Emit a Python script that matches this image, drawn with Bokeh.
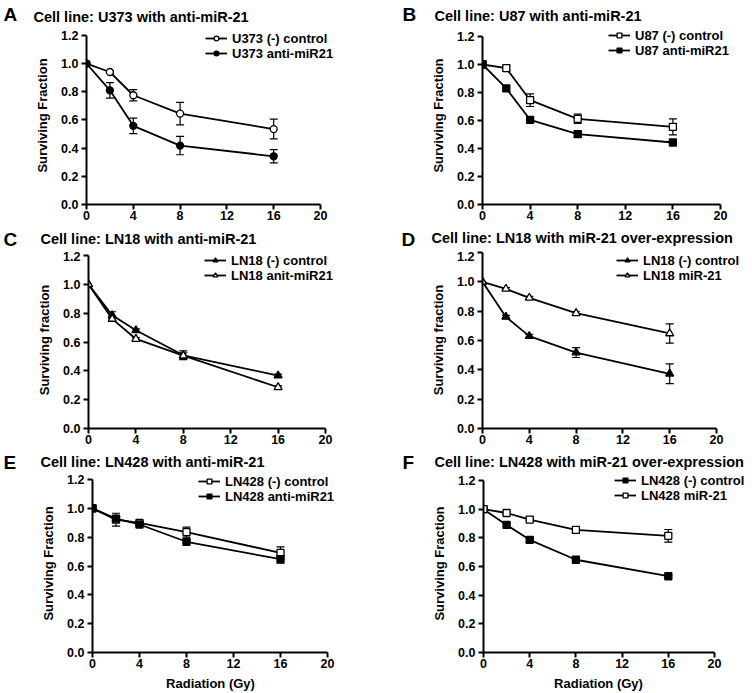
from bokeh.plotting import figure
from bokeh.models import (Range1d, FixedTicker, Whisker, TeeHead, ColumnDataSource,
                          Legend, LegendItem, Label, NumeralTickFormatter)
from bokeh.layouts import column, row
from bokeh.embed import file_html
from bokeh.resources import INLINE

# ---------------- data ----------------
dose = [0, 2, 4, 8, 16]
x_ticks = [0, 4, 8, 12, 16, 20]
y_ticks = [0.0, 0.2, 0.4, 0.6, 0.8, 1.0, 1.2]
x_limits = (0, 20)
y_limits = (0.0, 1.2)

# A: U373
u373_ctrl = [1.0, 0.94, 0.775, 0.645, 0.535]
u373_ctrl_err = [0.0, 0.01, 0.04, 0.08, 0.07]
u373_anti = [1.0, 0.81, 0.558, 0.418, 0.342]
u373_anti_err = [0.0, 0.055, 0.055, 0.065, 0.047]

# B: U87
u87_ctrl = [1.0, 0.974, 0.745, 0.612, 0.555]
u87_ctrl_err = [0.0, 0.02, 0.045, 0.033, 0.057]
u87_anti = [1.0, 0.829, 0.605, 0.502, 0.443]
u87_anti_err = [0.0, 0.02, 0.01, 0.02, 0.01]

# C: LN18 anti-miR-21
ln18c_ctrl = [1.0, 0.785, 0.681, 0.508, 0.367]
ln18c_ctrl_err = [0.0, 0.025, 0.01, 0.03, 0.01]
ln18c_anti = [1.0, 0.76, 0.621, 0.505, 0.286]
ln18c_anti_err = [0.0, 0.015, 0.01, 0.02, 0.01]

# D: LN18 miR-21 over-expression
ln18d_ctrl = [1.0, 0.761, 0.63, 0.518, 0.373]
ln18d_ctrl_err = [0.0, 0.01, 0.012, 0.034, 0.067]
ln18d_mir = [1.0, 0.952, 0.891, 0.786, 0.648]
ln18d_mir_err = [0.0, 0.008, 0.01, 0.01, 0.066]

# E: LN428 anti-miR-21
ln428e_ctrl = [1.0, 0.921, 0.899, 0.835, 0.691]
ln428e_ctrl_err = [0.0, 0.045, 0.01, 0.035, 0.042]
ln428e_anti = [1.0, 0.929, 0.888, 0.768, 0.647]
ln428e_anti_err = [0.0, 0.02, 0.01, 0.01, 0.028]

# F: LN428 miR-21 over-expression
ln428f_ctrl = [1.0, 0.89, 0.786, 0.647, 0.532]
ln428f_ctrl_err = [0.0, 0.01, 0.015, 0.01, 0.008]
ln428f_mir = [1.0, 0.973, 0.927, 0.855, 0.814]
ln428f_mir_err = [0.0, 0.008, 0.01, 0.02, 0.044]

FONT = "Liberation Sans"
COLW = 376

# page layout (pixels): header band, plot band, footer band per row
rows_geo = [
    dict(head=(0, 26), plot=(26, 229)),
    dict(head=(229, 251), plot=(251, 451)),
    dict(head=(451, 474), plot=(474, 675), foot=(675, 693)),
]

panels = [
    dict(letter="A", title="Cell line: U373 with anti-miR-21", ylabel="Surviving Fraction",
         col=0, row=0, frame=(86, 320, 35, 207),
         letter_pos=(3, 13.5), title_pos=(33, 16), legend_pos=(205, 43),
         series=[("U373 (-) control", u373_ctrl, u373_ctrl_err, "circle", False),
                 ("U373 anti-miR21", u373_anti, u373_anti_err, "circle", True)]),
    dict(letter="B", title="Cell line: U87 with anti-miR-21", ylabel="Surviving Fraction",
         col=1, row=0, frame=(482, 720, 36, 204),
         letter_pos=(402, 13.5), title_pos=(434, 15.5), legend_pos=(608, 37),
         series=[("U87 (-) control", u87_ctrl, u87_ctrl_err, "square", False),
                 ("U87 anti-miR21", u87_anti, u87_anti_err, "square", True)]),
    dict(letter="C", title="Cell line: LN18 with anti-miR-21", ylabel="Surviving fraction",
         col=0, row=1, frame=(88, 325, 255, 428),
         letter_pos=(3, 239), title_pos=(40, 238), legend_pos=(204, 262),
         series=[("LN18 (-) control", ln18c_ctrl, ln18c_ctrl_err, "triangle", True),
                 ("LN18 anit-miR21", ln18c_anti, ln18c_anti_err, "triangle", False)]),
    dict(letter="D", title="Cell line: LN18 with miR-21 over-expression", ylabel="Surviving fraction",
         col=1, row=1, frame=(482, 716, 252, 428),
         letter_pos=(401, 239), title_pos=(431, 237.5), legend_pos=(616, 262),
         series=[("LN18 (-) control", ln18d_ctrl, ln18d_ctrl_err, "triangle", True),
                 ("LN18 miR-21", ln18d_mir, ln18d_mir_err, "triangle", False)]),
    dict(letter="E", title="Cell line: LN428 with anti-miR-21", ylabel="Surviving Fraction",
         col=0, row=2, frame=(92, 327, 479, 652),
         letter_pos=(3, 461.5), title_pos=(40, 461), legend_pos=(198, 483),
         xlabel="Radiation (Gy)", xlabel_pos=(210, 683),
         series=[("LN428 (-) control", ln428e_ctrl, ln428e_ctrl_err, "square", False),
                 ("LN428 anti-miR21", ln428e_anti, ln428e_anti_err, "square", True)]),
    dict(letter="F", title="Cell line: LN428 with miR-21 over-expression", ylabel="Surviving Fraction",
         col=1, row=2, frame=(483, 714, 480, 653),
         letter_pos=(402, 461.5), title_pos=(434, 461), legend_pos=(614, 483),
         xlabel="Radiation (Gy)", xlabel_pos=(598, 683),
         series=[("LN428 (-) control", ln428f_ctrl, ln428f_ctrl_err, "square", True),
                 ("LN428 miR-21", ln428f_mir, ln428f_mir_err, "square", False)]),
]


def text_strip(ox, top, bottom, texts):
    """A figure with no axes whose frame is the whole strip; texts in pixel data units."""
    h = bottom - top
    p = figure(width=COLW, height=h, output_backend="svg", toolbar_location=None,
               x_range=Range1d(0, COLW), y_range=Range1d(0, h),
               x_axis_location=None, y_axis_location=None, min_border=0)
    p.outline_line_color = None
    p.grid.visible = False
    for txt, (px, py), size, align in texts:
        p.add_layout(Label(x=px - ox, y=h - (py - top), text=txt, text_font=FONT,
                           text_font_style="bold", text_font_size=size,
                           text_baseline="middle", text_align=align, text_color="black"))
    return p


def make_plot(sp):
    ox = sp["col"] * COLW
    top, bottom = rows_geo[sp["row"]]["plot"]
    h = bottom - top
    L, R, T, B = sp["frame"]
    px_per_x = (R - L) / (x_limits[1] - x_limits[0])
    px_per_y = (B - T) / (y_limits[1] - y_limits[0])
    x_end = (ox + COLW - L) / px_per_x       # frame runs to the column's right edge
    y_end = (B - top) / px_per_y             # frame runs to the top of the plot band
    p = figure(width=COLW, height=h, output_backend="svg", toolbar_location=None,
               x_range=Range1d(x_limits[0], x_end), y_range=Range1d(y_limits[0], y_end),
               min_border_left=L - ox, min_border_right=0,
               min_border_top=0, min_border_bottom=bottom - B)
    p.outline_line_color = None
    p.xgrid.visible = False
    p.ygrid.visible = False

    for ax in (p.xaxis[0], p.yaxis[0]):
        ax.axis_line_width = 2
        ax.axis_line_color = "black"
        ax.major_tick_line_width = 2
        ax.major_tick_line_color = "black"
        ax.major_tick_out = 5
        ax.major_tick_in = 0
        ax.minor_tick_line_color = None
        ax.major_label_text_font = FONT
        ax.major_label_text_font_style = "bold"
        ax.major_label_text_font_size = "12.5px"
        ax.major_label_text_color = "black"
        ax.axis_label_text_font = FONT
        ax.axis_label_text_font_style = "bold"
        ax.axis_label_text_font_size = "13px"
        ax.axis_label_text_color = "black"
    p.xaxis[0].ticker = FixedTicker(ticks=x_ticks)
    p.yaxis[0].ticker = FixedTicker(ticks=y_ticks)
    p.xaxis[0].bounds = x_limits
    p.yaxis[0].bounds = y_limits
    p.yaxis[0].formatter = NumeralTickFormatter(format="0.0")
    p.xaxis[0].major_label_standoff = 1
    p.yaxis[0].major_label_standoff = 3
    p.yaxis[0].axis_label = sp["ylabel"]
    p.yaxis[0].axis_label_standoff = 8

    items = []
    for label, vals, errs, marker, filled in sp["series"]:
        ex = [x for x, e in zip(dose, errs) if e > 0]
        eu = [v + e for v, e in zip(vals, errs) if e > 0]
        el = [v - e for v, e in zip(vals, errs) if e > 0]
        wsrc = ColumnDataSource(dict(x=ex, upper=eu, lower=el))
        wk = Whisker(base="x", upper="upper", lower="lower", source=wsrc,
                     line_color="black", line_width=1.2,
                     upper_head=TeeHead(size=8, line_color="black", line_width=1.2),
                     lower_head=TeeHead(size=8, line_color="black", line_width=1.2))
        p.add_layout(wk)
        src = ColumnDataSource(dict(x=dose, y=vals))
        rl = p.line("x", "y", source=src, line_color="black", line_width=1.8)
        rs = p.scatter("x", "y", source=src, marker=marker,
                       size=7 if marker != "triangle" else 8,
                       line_color="black", line_width=1.3,
                       fill_color="black" if filled else "white")
        items.append(LegendItem(label=label, renderers=[rl, rs]))

    lx, ly = sp["legend_pos"]
    row_h, gap = 15, -2
    leg_h = 2 * row_h + gap
    loc = (lx - L, B - (ly - row_h / 2) - leg_h)
    legend = Legend(items=items, location=loc,
                    border_line_color=None, background_fill_alpha=0,
                    padding=0, margin=0, spacing=gap,
                    glyph_width=22, glyph_height=12, label_height=12,
                    label_standoff=5,
                    label_text_font=FONT, label_text_font_style="bold",
                    label_text_font_size="13px", label_text_color="black")
    p.add_layout(legend)
    return p


grid_rows = []
for r, geo in enumerate(rows_geo):
    sps = [sp for sp in panels if sp["row"] == r]
    heads = [text_strip(sp["col"] * COLW, geo["head"][0], geo["head"][1],
                        [(sp["letter"], sp["letter_pos"], "19px", "left"),
                         (sp["title"], sp["title_pos"], "14.5px", "left")]) for sp in sps]
    grid_rows.append(row(*heads))
    grid_rows.append(row(*[make_plot(sp) for sp in sps]))
    if "foot" in geo:
        feet = [text_strip(sp["col"] * COLW, geo["foot"][0], geo["foot"][1],
                           [(sp["xlabel"], sp["xlabel_pos"], "13px", "center")]) for sp in sps]
        grid_rows.append(row(*feet))

layout = column(*grid_rows)

open("out.html", "w").write(file_html(layout, INLINE))
